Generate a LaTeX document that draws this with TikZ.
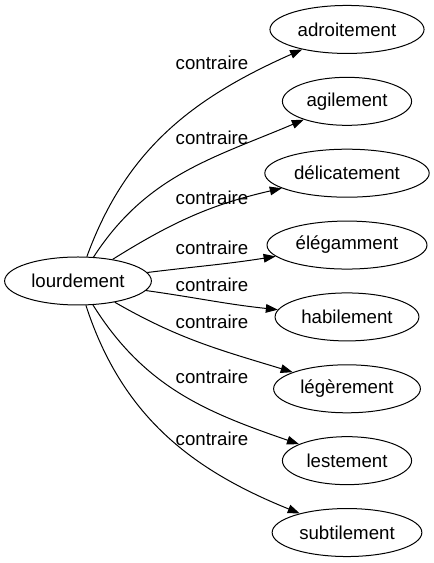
\documentclass[tikz,border=0pt]{standalone}
\usepackage{fontspec}
\setmainfont{Liberation Sans}
\usetikzlibrary{shapes.geometric,arrows.meta}
\begin{document}
\begin{tikzpicture}[
            x=0.75pt, y=0.75pt,
            grow'=east,
            level distance=201.75pt,
            sibling distance=53.9pt,
            word/.style={ellipse, draw, line width=0.75pt, inner xsep=3.9pt, inner ysep=0pt, minimum height=36pt, font=\fontsize{14}{16}\selectfont},
            rel/.style={font=\fontsize{14}{16}\selectfont, inner sep=0pt},
            edge from parent/.style={draw, line width=0.75pt, -{Triangle[length=9pt,width=6.5pt]}},
            edge from parent path={(\tikzparentnode) to (\tikzchildnode)}
        ]
        \useasboundingbox (0,0) rectangle (434,563);
        \node[word] (lourdement) at (78,282) {lourdement}
            child {
                node[word] (adroitement) {adroitement}
                edge from parent[out=70, in=204]
            }
            child {
                node[word] (agilement) {agilement}
                edge from parent[out=57, in=203]
            }
            child {
                node[word] (delicatement) {délicatement}
                edge from parent[out=32, in=193]
            }
            child {
                node[word] (elegamment) {élégamment}
                edge from parent[out=7, in=189]
            }
            child {
                node[word] (habilement) {habilement}
                edge from parent[out=-8, in=174]
            }
            child {
                node[word] (legerement) {légèrement}
                edge from parent[out=-30, in=163]
            }
            child {
                node[word] (lestement) {lestement}
                edge from parent[out=-58, in=161]
            }
            child {
                node[word] (subtilement) {subtilement}
                edge from parent[out=-72, in=158]
            };
        \node[rel] (c-adroitement) at (212,500) {contraire};
        \node[rel] (c-agilement) at (212,425) {contraire};
        \node[rel] (c-delicatement) at (212,365) {contraire};
        \node[rel] (c-elegamment) at (212,315) {contraire};
        \node[rel] (c-habilement) at (212,278) {contraire};
        \node[rel] (c-legerement) at (212,241) {contraire};
        \node[rel] (c-lestement) at (212,186) {contraire};
        \node[rel] (c-subtilement) at (212,124) {contraire};
\end{tikzpicture}
\end{document}
